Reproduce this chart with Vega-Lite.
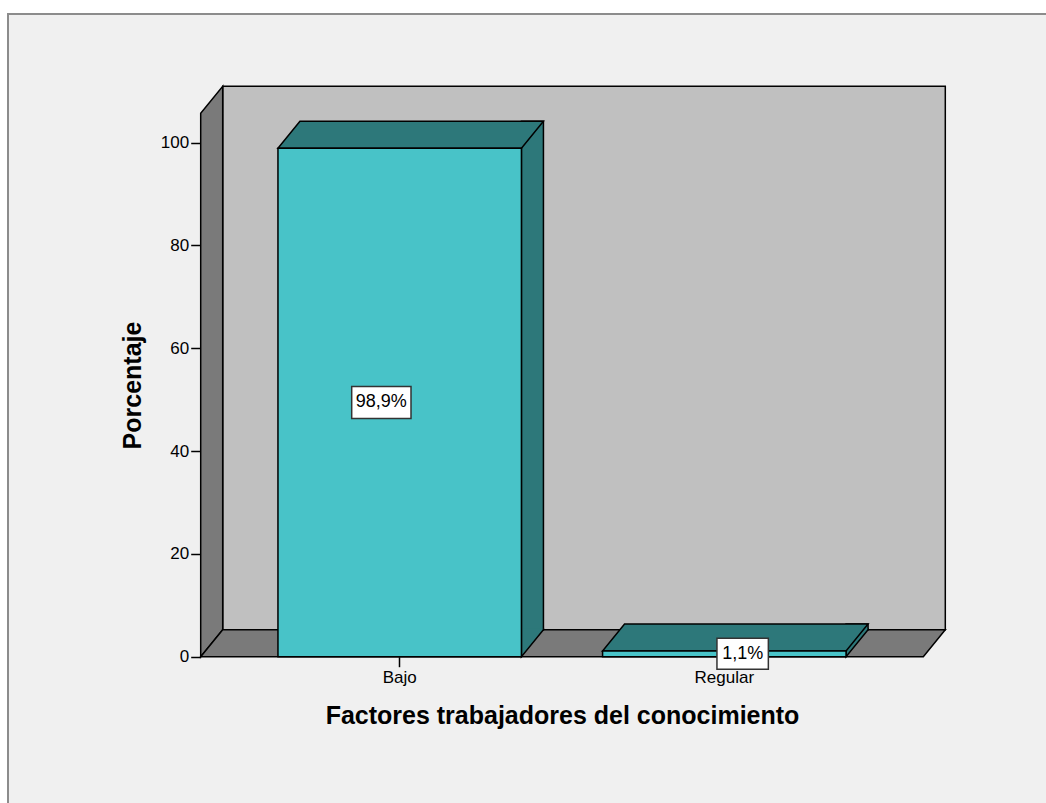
{
  "$schema": "https://vega.github.io/schema/vega-lite/v6.json",
  "width": 1046,
  "height": 800,
  "autosize": "none",
  "padding": {"left": 8, "top": 14, "right": 0, "bottom": 0},
  "background": "white",
  "config": {
    "view": {"fill": "#f0f0f0", "stroke": "#8c8c8c", "strokeWidth": 2},
    "font": "Liberation Sans"
  },
  "data": {
    "values": [
      {"factor": "Bajo", "pct": 98.9},
      {"factor": "Regular", "pct": 1.1}
    ]
  },
  "resolve": {
    "scale": {"x": "independent", "y": "independent"},
    "axis": {"x": "independent", "y": "independent"}
  },
  "layer": [
    {
      "data": {"values": [{"part": "walls"}]},
      "encoding": {
        "x": {"datum": 0, "type": "quantitative", "scale": {"domain": [0, 1], "range": [192.7, 915.3]}, "axis": null},
        "y": {"datum": 0, "type": "quantitative", "scale": {"domain": [0, 105.7], "range": [642.7, 99.3], "nice": false}, "axis": null}
      },
      "layer": [
        {
          "mark": {"type": "rect", "fill": "#c0c0c0", "stroke": "black", "strokeWidth": 1.5, "xOffset": 22, "x2Offset": 22, "yOffset": -27, "y2Offset": -27},
          "encoding": {"x2": {"datum": 1}, "y2": {"datum": 105.7}}
        },
        {
          "mark": {"type": "point", "shape": "M0,0 L0,-543.4 L22,-570.4 L22,-27 Z", "size": 4, "filled": true, "fill": "#7a7a7a", "stroke": "black", "strokeWidth": 1.5, "opacity": 1}
        },
        {
          "mark": {"type": "point", "shape": "M0,0 L722.6,0 L744.6,-27 L22,-27 Z", "size": 4, "filled": true, "fill": "#7a7a7a", "stroke": "black", "strokeWidth": 1.5, "opacity": 1}
        }
      ]
    },
    {
      "encoding": {
        "x": {
          "field": "factor", "type": "nominal", "sort": null,
          "scale": {"domain": ["Bajo", "Regular"], "range": [192.7, 915.3], "paddingInner": 0.25, "paddingOuter": 0.238},
          "axis": {
            "orient": "bottom", "offset": -157.3, "domain": false, "grid": false,
            "tickSize": 10, "tickColor": "black", "tickWidth": 1.5,
            "labelAngle": 0, "labelFont": "Liberation Sans", "labelFontSize": 17, "labelColor": "black", "labelPadding": 3,
            "title": "Factores trabajadores del conocimiento", "titleFont": "Liberation Sans", "titleFontSize": 25,
            "titleFontWeight": "bold", "titleColor": "black", "titlePadding": 18
          }
        },
        "y": {
          "field": "pct", "type": "quantitative",
          "scale": {"domain": [0, 105.7], "range": [642.7, 99.3], "nice": false},
          "axis": {
            "orient": "left", "offset": -192.7, "values": [0, 20, 40, 60, 80, 100], "domain": false, "grid": false,
            "tickSize": 10, "tickColor": "black", "tickWidth": 1.5,
            "labelFont": "Liberation Sans", "labelFontSize": 17, "labelColor": "black", "labelPadding": 2,
            "title": "Porcentaje", "titleFont": "Liberation Sans", "titleFontSize": 25,
            "titleFontWeight": "bold", "titleColor": "black", "titlePadding": 15
          }
        }
      },
      "layer": [
        {
          "mark": {"type": "bar", "width": 22, "xOffset": 132.75, "yOffset": -27, "y2Offset": -27, "fill": "#2d787a", "stroke": "black", "strokeWidth": 1.5}
        },
        {
          "mark": {"type": "point", "shape": "M143.75,-28.5 L143.75,-27 L121.75,0 L121.75,-28.5", "size": 4, "filled": true, "fill": "#2d787a", "stroke": "black", "strokeWidth": 1.5, "opacity": 1},
          "encoding": {"y": {"datum": 0}}
        },
        {
          "mark": {"type": "point", "shape": "M-121.75,0 L121.75,0 L143.75,-27 L-99.75,-27 Z", "size": 4, "filled": true, "fill": "#2d787a", "stroke": "black", "strokeWidth": 1.5, "opacity": 1}
        },
        {
          "mark": {"type": "bar", "fill": "#48c3c8", "stroke": "black", "strokeWidth": 1.5}
        }
      ]
    },
    {
      "encoding": {
        "x": {
          "field": "factor", "type": "nominal", "sort": null,
          "scale": {"domain": ["Bajo", "Regular"], "range": [192.7, 915.3], "paddingInner": 0.25, "paddingOuter": 0.238},
          "axis": null
        },
        "y": {
          "field": "pct", "type": "quantitative",
          "scale": {"domain": [0, 211.4], "range": [642.7, 99.3], "nice": false},
          "axis": null
        }
      },
      "layer": [
        {
          "mark": {"type": "point", "size": 4, "filled": true, "fill": "white", "stroke": "#333333", "strokeWidth": 1.5, "opacity": 1},
          "encoding": {
            "shape": {
              "field": "factor", "type": "nominal",
              "scale": {"domain": ["Bajo", "Regular"], "range": ["M-29.65,-16 L29.65,-16 L29.65,16 L-29.65,16 Z", "M-25.7,-15.5 L25.7,-15.5 L25.7,15.5 L-25.7,15.5 Z"]},
              "legend": null
            }
          }
        },
        {
          "mark": {
            "type": "text", "font": "Liberation Sans", "fontSize": 18, "color": "black", "align": "center", "baseline": "middle",
            "text": {"expr": "replace(format(datum.pct, '.1f'), '.', ',') + '%'"}
          }
        }
      ]
    }
  ]
}
